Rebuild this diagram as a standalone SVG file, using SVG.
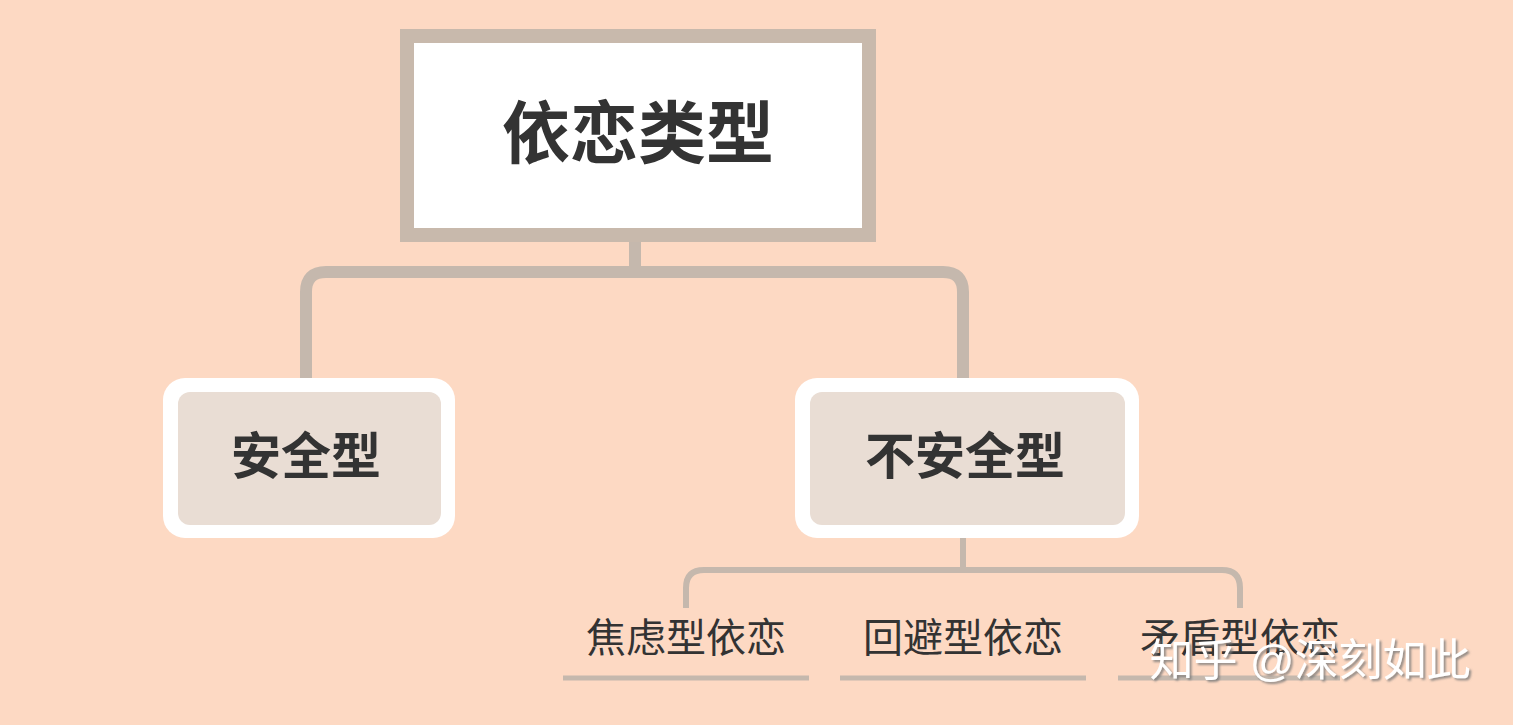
<svg xmlns="http://www.w3.org/2000/svg" width="1513" height="725" viewBox="0 0 1513 725">
<defs>
<style>
.t{font-family:"Liberation Sans","Noto Sans CJK SC",sans-serif;fill:#333;text-anchor:middle}
.b{font-weight:bold}
.c{fill:none;stroke:#c5b8ad;stroke-linecap:butt}
.leaf{font-size:40px}
.u{stroke:#c5b8ad;stroke-width:5}
</style>
<filter id="sh" x="-10%" y="-20%" width="130%" height="150%"><feDropShadow dx="2" dy="2" stdDeviation="1" flood-color="#777" flood-opacity="0.8"/></filter>
</defs>
<rect width="1513" height="725" fill="#fdd9c3"/>
<g id="connectors">
<path class="c" stroke-width="12" d="M635 241V272M306 378V292Q306 272 326 272H943Q963 272 963 292V378"/>
<path class="c" stroke-width="6" d="M963 538V570M686 608V588Q686 570 704 570H1222Q1240 570 1240 588V608"/>
</g>
<g id="root">
<rect x="407" y="36" width="462" height="199" fill="#fff" stroke="#c8b9ac" stroke-width="14"/>
<text class="t b" x="638" y="158" font-size="68">依恋类型</text>
</g>
<g id="safe">
<rect x="163" y="378" width="292" height="160" rx="22" fill="#fff"/>
<rect x="178" y="392" width="263" height="133" rx="12" fill="#e9ddd4"/>
<text class="t b" x="306" y="474" font-size="50">安全型</text>
</g>
<g id="unsafe">
<rect x="795" y="378" width="344" height="160" rx="22" fill="#fff"/>
<rect x="810" y="392" width="315" height="133" rx="12" fill="#e9ddd4"/>
<text class="t b" x="965" y="474" font-size="50">不安全型</text>
</g>
<g id="anxious">
<text class="t leaf" x="686" y="652">焦虑型依恋</text>
<line class="u" x1="563" y1="678" x2="809" y2="678"/>
</g>
<g id="avoidant">
<text class="t leaf" x="963" y="652">回避型依恋</text>
<line class="u" x1="840" y1="678" x2="1086" y2="678"/>
</g>
<g id="ambivalent">
<text class="t leaf" x="1240" y="652">矛盾型依恋</text>
<line class="u" x1="1118" y1="678" x2="1340" y2="678"/>
</g>
<text x="1310" y="676" font-size="44" fill="#fff" text-anchor="middle" filter="url(#sh)" style="font-family:'Liberation Sans','Noto Sans CJK SC',sans-serif">知乎 @深刻如此</text>
</svg>
